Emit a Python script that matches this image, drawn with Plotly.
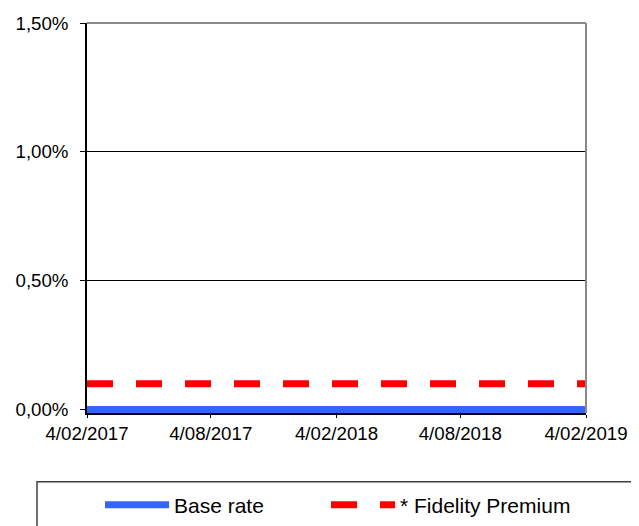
import plotly.graph_objects as go

# ---- data ----
dates = ["2017-02-04", "2017-08-04", "2018-02-04", "2018-08-04", "2019-02-04"]
base_rate = [0.0, 0.0, 0.0, 0.0, 0.0]
fidelity_premium = [0.001, 0.001, 0.001, 0.001, 0.001]
series_names = ["Base rate", "* Fidelity Premium"]
x_tick_vals = ["2017-02-04", "2017-08-04", "2018-02-04", "2018-08-04", "2019-02-04"]
x_tick_text = ["4/02/2017", "4/08/2017", "4/02/2018", "4/08/2018", "4/02/2019"]
y_tick_vals = [0.0, 0.005, 0.010, 0.015]

FONT = "Liberation Sans, Arial, sans-serif"

# page body has an 8px margin: figure is 631x518 placed at (8,8)
W, H = 631, 518
L, R = 79, 578            # plot area left/right (figure px)
TOP, BOT = 14.7, 405.2    # plot area top/bottom (figure px); y=0 sits at 401.7
PW, PH = R - L, BOT - TOP


def px(xp):
    return (xp - L) / PW


def py(yp):
    return (BOT - yp) / PH


fig = go.Figure()
fig.add_trace(go.Scatter(
    x=dates, y=base_rate, name=series_names[0], mode="lines",
    line=dict(color="#3366FF", width=7), legend="legend",
))
fig.add_trace(go.Scatter(
    x=dates, y=fidelity_premium, name=series_names[1], mode="lines",
    line=dict(color="#FF0000", width=7, dash="26px,23px"), legend="legend2",
))

# top and right frame in grey
fig.add_shape(type="line", xref="paper", yref="paper", x0=0, x1=1, y0=1, y1=1,
              line=dict(color="#8a8a8a", width=2), layer="above")
fig.add_shape(type="line", xref="paper", yref="paper", x0=1, x1=1, y0=0, y1=1,
              line=dict(color="#8a8a8a", width=2), layer="above")
# legend frame
fig.add_shape(type="rect", xref="paper", yref="paper",
              x0=px(29), x1=px(626), y0=py(560), y1=py(474),
              line=dict(color="#404040", width=1.5), layer="above")

legend_common = dict(
    orientation="h", xanchor="left", y=py(477), yanchor="top",
    font=dict(family=FONT, size=21, color="black"),
    itemwidth=64, bgcolor="rgba(0,0,0,0)", borderwidth=0,
)

fig.update_layout(
    width=W, height=H,
    margin=dict(l=L, r=W - R, t=TOP, b=H - BOT, pad=0, autoexpand=False),
    paper_bgcolor="white", plot_bgcolor="white",
    separators=",.",
    font=dict(family=FONT, size=19, color="black"),
    showlegend=True,
    legend=dict(x=px(92), **legend_common),
    legend2=dict(x=px(318), **legend_common),
    xaxis=dict(
        type="date", range=["2017-02-04", "2019-02-04"],
        tickvals=x_tick_vals, ticktext=x_tick_text,
        showgrid=False, zeroline=False,
        showline=True, linecolor="black", linewidth=1.5,
        ticks="outside", ticklen=3, tickcolor="black", tickwidth=1,
        tickfont=dict(family=FONT, size=18.7, color="black"),
        layer="below traces",
        automargin=False,
    ),
    yaxis=dict(
        range=[-0.000136, 0.015], tickvals=y_tick_vals, tickformat=".2%",
        showgrid=True, gridcolor="black", gridwidth=1,
        zeroline=False,
        showline=True, linecolor="black", linewidth=1.5,
        ticks="outside", ticklen=5, tickcolor="black", tickwidth=1,
        tickfont=dict(family=FONT, size=18.7, color="black"),
        ticklabelstandoff=8,
        automargin=False,
    ),
)

fig.write_html("out.html")
